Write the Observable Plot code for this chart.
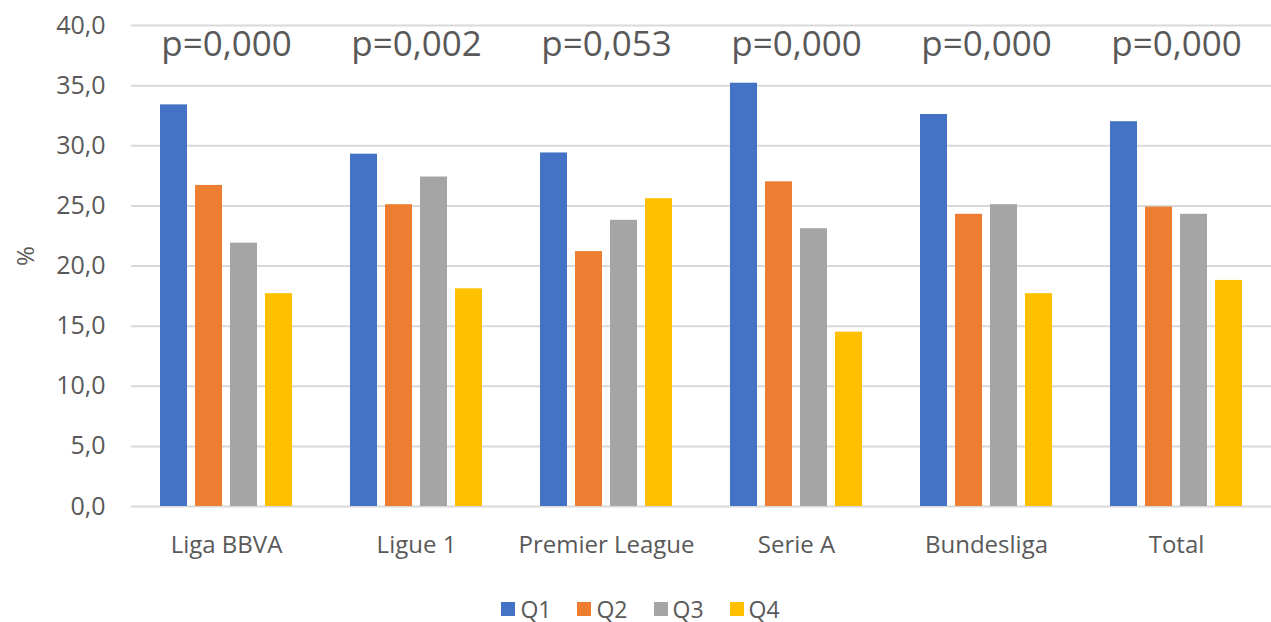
<!DOCTYPE html>
<html>
<head>
<meta charset="utf-8">
<script src="https://cdn.jsdelivr.net/npm/d3@7"></script>
<script src="https://cdn.jsdelivr.net/npm/@observablehq/plot@0.6"></script>
<style>
  html, body { margin: 0; padding: 0; background: #fff; }
  body { width: 1271px; height: 622px; overflow: hidden; font-family: "Open Sans", sans-serif; }
  #legend { display: flex; justify-content: center; align-items: center; gap: 26px; height: 47px; padding-left: 10px; margin-top: 10px; }
  #legend .item { display: flex; align-items: center; gap: 5px; font-size: 23px; color: #595959; }
  #legend .sw { width: 14px; height: 14px; display: inline-block; }
</style>
</head>
<body>
<div id="chart"></div>
<div id="legend"></div>
<script>
const leagues = ["Liga BBVA", "Ligue 1", "Premier League", "Serie A", "Bundesliga", "Total"];
const quarters = ["Q1", "Q2", "Q3", "Q4"];
const q1 = [33.4, 29.3, 29.4, 35.2, 32.6, 32.0];
const q2 = [26.7, 25.1, 21.2, 27.0, 24.3, 24.9];
const q3 = [21.9, 27.4, 23.8, 23.1, 25.1, 24.3];
const q4 = [17.7, 18.1, 25.6, 14.5, 17.7, 18.8];
const pValues = ["p=0,000", "p=0,002", "p=0,053", "p=0,000", "p=0,000", "p=0,000"];
const colors = ["#4472C4", "#ED7D31", "#A5A5A5", "#FFC000"];
const yTicks = [0, 5, 10, 15, 20, 25, 30, 35, 40];

const series = [q1, q2, q3, q4];
const data = [];
leagues.forEach((lg, i) => {
  quarters.forEach((q, j) => data.push({league: lg, quarter: q, value: series[j][i]}));
});
const pData = leagues.map((lg, i) => ({league: lg, label: pValues[i]}));

const chart = Plot.plot({
  width: 1271,
  height: 575,
  marginTop: 25,
  marginBottom: 69,
  marginLeft: 130,
  marginRight: 0,
  style: {fontFamily: "Open Sans, sans-serif", color: "#595959", fontSize: "24px"},
  fx: {domain: leagues, padding: 0, label: null},
  x: {domain: quarters, paddingInner: 0.235, paddingOuter: 0.81, axis: null},
  y: {domain: [0, 40], label: null},
  color: {domain: quarters, range: colors},
  marks: [
    Plot.gridY(yTicks, {stroke: "#d9d9d9", strokeWidth: 2, strokeOpacity: 1}),
    Plot.axisY(yTicks, {tickSize: 0, tickPadding: 26, fontSize: 25, tickFormat: d => d.toFixed(1).replace(".", ","), label: null}),
    Plot.text(["%"], {frameAnchor: "left", dx: -105, rotate: -90, fontSize: 24, fill: "#595959", facet: "super"}),
    Plot.axisFx({anchor: "bottom", tickSize: 0, tickPadding: 29, fontSize: 24, label: null}),
    Plot.barY(data, {fx: "league", x: "quarter", y: "value", fill: "quarter"}),
    Plot.text(pData, {fx: "league", text: "label", frameAnchor: "top", lineAnchor: "middle", dy: 19, fontSize: 35, fill: "#595959"})
  ]
});
document.getElementById("chart").appendChild(chart);

const legend = document.getElementById("legend");
quarters.forEach((q, i) => {
  const it = document.createElement("div");
  it.className = "item";
  it.innerHTML = `<span class="sw" style="background:${colors[i]}"></span><span>${q}</span>`;
  legend.appendChild(it);
});
</script>
</body>
</html>
